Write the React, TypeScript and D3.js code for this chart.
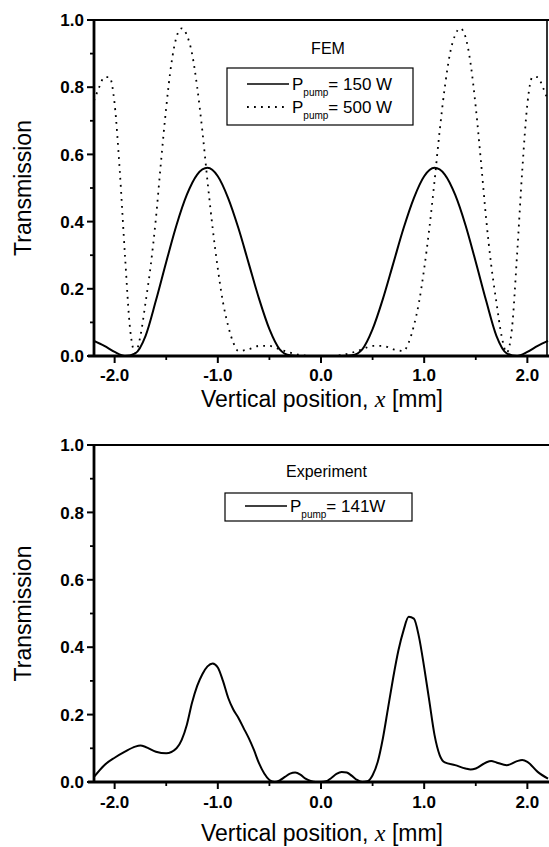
import React from 'react';
import * as d3 from 'd3';

// ---- axis ticks ----
const xTickValues = [-2, -1, 0, 1, 2];
const xTickLabels = ['-2.0', '-1.0', '0.0', '1.0', '2.0'];
const xMinorTicks = [-1.5, -0.5, 0.5, 1.5];
const yTickValues = [0, 0.2, 0.4, 0.6, 0.8, 1.0];
const yTickLabels = ['0.0', '0.2', '0.4', '0.6', '0.8', '1.0'];
const yMinorTicks = [0.1, 0.3, 0.5, 0.7, 0.9];

// ---- FEM, P_pump = 150 W ----
const fem150X = [-2.2, -2.1, -2.0, -1.9, -1.8, -1.7, -1.6, -1.5, -1.4, -1.3, -1.2, -1.1, -1.0, -0.9, -0.8, -0.7, -0.6, -0.5, -0.4, -0.3, -0.2, -0.1, 0.0, 0.1, 0.2, 0.3, 0.4, 0.5, 0.6, 0.7, 0.8, 0.9, 1.0, 1.1, 1.2, 1.3, 1.4, 1.5, 1.6, 1.7, 1.8, 1.9, 2.0, 2.1, 2.2];
const fem150Y = [0.045, 0.03, 0.012, 0.0, 0.008, 0.06, 0.165, 0.28, 0.39, 0.48, 0.54, 0.56, 0.535, 0.47, 0.38, 0.275, 0.17, 0.08, 0.02, 0.002, 0.0, 0.0, 0.0, 0.0, 0.0, 0.002, 0.02, 0.08, 0.17, 0.275, 0.38, 0.47, 0.535, 0.56, 0.54, 0.48, 0.39, 0.28, 0.165, 0.06, 0.008, 0.0, 0.012, 0.03, 0.045];

// ---- FEM, P_pump = 500 W ----
const fem500X = [-2.2, -2.15, -2.1, -2.05, -2.0, -1.95, -1.9, -1.85, -1.8, -1.75, -1.7, -1.65, -1.6, -1.55, -1.5, -1.45, -1.4, -1.35, -1.3, -1.25, -1.2, -1.15, -1.1, -1.05, -1.0, -0.95, -0.9, -0.85, -0.8, -0.7, -0.6, -0.5, -0.4, -0.3, -0.2, -0.1, 0.0, 0.1, 0.2, 0.3, 0.4, 0.5, 0.6, 0.7, 0.8, 0.85, 0.9, 0.95, 1.0, 1.05, 1.1, 1.15, 1.2, 1.25, 1.3, 1.35, 1.4, 1.45, 1.5, 1.55, 1.6, 1.65, 1.7, 1.75, 1.8, 1.85, 1.9, 1.95, 2.0, 2.05, 2.1, 2.15, 2.2];
const fem500Y = [0.76, 0.8, 0.83, 0.83, 0.75, 0.55, 0.3, 0.08, 0.01, 0.06, 0.16, 0.27, 0.41, 0.58, 0.74, 0.87, 0.95, 0.975, 0.955, 0.9, 0.8, 0.67, 0.52, 0.38, 0.26, 0.16, 0.09, 0.04, 0.015, 0.02, 0.03, 0.03, 0.02, 0.01, 0.003, 0.0, 0.0, 0.0, 0.003, 0.01, 0.02, 0.03, 0.03, 0.02, 0.015, 0.04, 0.09, 0.16, 0.26, 0.38, 0.52, 0.67, 0.8, 0.9, 0.955, 0.975, 0.95, 0.87, 0.74, 0.58, 0.41, 0.27, 0.16, 0.06, 0.01, 0.08, 0.3, 0.55, 0.75, 0.83, 0.83, 0.8, 0.76];

// ---- Experiment, P_pump = 141 W ----
const exp141X = [-2.2, -2.1, -2.0, -1.9, -1.8, -1.75, -1.7, -1.6, -1.5, -1.4, -1.35, -1.3, -1.25, -1.2, -1.15, -1.1, -1.05, -1.0, -0.95, -0.9, -0.85, -0.8, -0.75, -0.7, -0.65, -0.6, -0.55, -0.5, -0.45, -0.4, -0.35, -0.3, -0.25, -0.2, -0.15, -0.1, -0.05, 0.0, 0.05, 0.1, 0.15, 0.2, 0.25, 0.3, 0.35, 0.4, 0.45, 0.5, 0.55, 0.6, 0.65, 0.7, 0.75, 0.8, 0.85, 0.9, 0.95, 1.0, 1.05, 1.1, 1.15, 1.2, 1.3, 1.4, 1.45, 1.5, 1.6, 1.65, 1.7, 1.8, 1.9, 1.95, 2.0, 2.1, 2.2];
const exp141Y = [0.015, 0.05, 0.072, 0.09, 0.105, 0.108, 0.104, 0.09, 0.085, 0.1, 0.125, 0.17, 0.235, 0.285, 0.32, 0.343, 0.352, 0.34, 0.3, 0.25, 0.215, 0.19, 0.16, 0.13, 0.095, 0.055, 0.025, 0.006, 0.0, 0.005, 0.015, 0.025, 0.028, 0.022, 0.01, 0.003, 0.0, 0.0, 0.002, 0.012, 0.024, 0.03, 0.028, 0.018, 0.006, 0.0, 0.002, 0.02, 0.06, 0.13, 0.22, 0.31, 0.39, 0.45, 0.49, 0.485, 0.43, 0.34, 0.24, 0.14, 0.08, 0.058, 0.05, 0.04, 0.037, 0.04, 0.058, 0.062, 0.058, 0.05, 0.062, 0.065, 0.06, 0.03, 0.01];

// ---- texts ----
const topTitle = 'FEM';
const bottomTitle = 'Experiment';
const topLegend = ['= 150 W', '= 500 W'];
const bottomLegend = ['= 141W'];
const xAxisTitle = 'Vertical position, ';
const yAxisTitle = 'Transmission';

const SANS = 'Arial, "Liberation Sans", Helvetica, sans-serif';

type Series = { xs: number[]; ys: number[]; dotted: boolean };

function Panel(props: {
  top: number;
  bottom: number;
  series: Series[];
  title: string;
  titleY: number;
  legend: string[];
  legendDotted: boolean[];
  box: { x0: number; y0: number; x1: number; y1: number };
  rowY: number[];
  rightBorder: boolean;
  tickLabelY: number;
  axisTitleY: number;
  id: string;
}) {
  const { top, bottom, series, box } = props;
  const x = d3.scaleLinear().domain([-2.2, 2.2]).range([94, 548]);
  const y = d3.scaleLinear().domain([0, 1]).range([bottom, top]);
  const line = d3
    .line<[number, number]>()
    .x((d) => x(d[0]))
    .y((d) => y(d[1]))
    .curve(d3.curveMonotoneX);
  const left = x(-2.2);
  const right = 547;
  const dash = '1.8 5.2';
  return (
    <g>
      <defs>
        <clipPath id={props.id}>
          <rect x={left} y={top - 2} width={right - left + 2} height={bottom - top + 4} />
        </clipPath>
      </defs>
      {/* curves */}
      <g clipPath={`url(#${props.id})`}>
        {series.map((s, i) => (
          <path
            key={i}
            d={line(s.xs.map((v, j) => [v, s.ys[j]] as [number, number])) || ''}
            fill="none"
            stroke="#000"
            strokeWidth={s.dotted ? 1.8 : 2}
            strokeDasharray={s.dotted ? dash : undefined}
          />
        ))}
      </g>
      {/* frame */}
      <line x1={left} x2={549} y1={top} y2={top} stroke="#000" strokeWidth={2.2} />
      {props.rightBorder && (
        <line x1={right} x2={right} y1={top} y2={bottom} stroke="#000" strokeWidth={1.6} />
      )}
      <line x1={left} x2={left} y1={top - 1} y2={bottom} stroke="#000" strokeWidth={2.8} />
      <line x1={left - 6} x2={549} y1={bottom} y2={bottom} stroke="#000" strokeWidth={2.8} />
      {/* y ticks */}
      {yTickValues.map((v, i) => (
        <g key={'y' + i}>
          <line x1={left - 7} x2={left} y1={y(v)} y2={y(v)} stroke="#000" strokeWidth={2} />
          <text
            x={left - 10}
            y={y(v)}
            dy="0.36em"
            textAnchor="end"
            fontFamily={SANS}
            fontWeight="bold"
            fontSize={17}
          >
            {yTickLabels[i]}
          </text>
        </g>
      ))}
      {yMinorTicks.map((v, i) => (
        <line key={'ym' + i} x1={left - 4} x2={left} y1={y(v)} y2={y(v)} stroke="#000" strokeWidth={1.8} />
      ))}
      {/* x ticks */}
      {xTickValues.map((v, i) => (
        <g key={'x' + i}>
          <line x1={x(v)} x2={x(v)} y1={bottom} y2={bottom + 7} stroke="#000" strokeWidth={2} />
          <text
            x={x(v)}
            y={props.tickLabelY}
            textAnchor="middle"
            fontFamily={SANS}
            fontWeight="bold"
            fontSize={17}
          >
            {xTickLabels[i]}
          </text>
        </g>
      ))}
      {xMinorTicks.map((v, i) => (
        <line key={'xm' + i} x1={x(v)} x2={x(v)} y1={bottom} y2={bottom + 4} stroke="#000" strokeWidth={1.8} />
      ))}
      {/* axis titles */}
      <text x={322} y={props.axisTitleY} textAnchor="middle" fontFamily={SANS} fontSize={23}>
        {xAxisTitle}
        <tspan fontFamily='"Liberation Serif", "Times New Roman", serif' fontStyle="italic" fontSize={24}>
          x
        </tspan>
        {' [mm]'}
      </text>
      <text
        transform={`translate(31, ${(top + bottom) / 2}) rotate(-90)`}
        textAnchor="middle"
        fontFamily={SANS}
        fontSize={23}
      >
        {yAxisTitle}
      </text>
      {/* panel title */}
      <text x={(box.x0 + box.x1) / 2 + 8} y={props.titleY} textAnchor="middle" fontFamily={SANS} fontSize={16}>
        {props.title}
      </text>
      {/* legend */}
      <rect
        x={box.x0}
        y={box.y0}
        width={box.x1 - box.x0}
        height={box.y1 - box.y0}
        fill="#fff"
        stroke="#000"
        strokeWidth={1.2}
      />
      {props.legend.map((label, i) => (
        <g key={'l' + i}>
          <line
            x1={box.x0 + 20}
            x2={box.x0 + 62}
            y1={props.rowY[i]}
            y2={props.rowY[i]}
            stroke="#000"
            strokeWidth={props.legendDotted[i] ? 1.8 : 1.6}
            strokeDasharray={props.legendDotted[i] ? dash : undefined}
          />
          <text x={box.x0 + 65} y={props.rowY[i] + 6} fontFamily={SANS} fontSize={17}>
            P
            <tspan fontSize={10} dy={6}>
              pump
            </tspan>
            <tspan dy={-6}>{label}</tspan>
          </text>
        </g>
      ))}
    </g>
  );
}

export default function App() {
  return (
    <svg
      width={549}
      height={847}
      viewBox="0 0 549 847"
      style={{ position: 'absolute', left: 0, top: 0, background: '#fff' }}
    >
      <rect x={0} y={0} width={549} height={847} fill="#fff" />
      <Panel
        id="clipTop"
        top={20}
        bottom={356}
        series={[
          { xs: fem150X, ys: fem150Y, dotted: false },
          { xs: fem500X, ys: fem500Y, dotted: true },
        ]}
        title={topTitle}
        titleY={54}
        legend={topLegend}
        legendDotted={[false, true]}
        box={{ x0: 227, y0: 68, x1: 413, y1: 125 }}
        rowY={[84, 107]}
        rightBorder={true}
        tickLabelY={381}
        axisTitleY={407}
      />
      <Panel
        id="clipBottom"
        top={445}
        bottom={782}
        series={[{ xs: exp141X, ys: exp141Y, dotted: false }]}
        title={bottomTitle}
        titleY={477}
        legend={bottomLegend}
        legendDotted={[false]}
        box={{ x0: 225, y0: 493, x1: 412, y1: 521 }}
        rowY={[506]}
        rightBorder={false}
        tickLabelY={808}
        axisTitleY={841}
      />
    </svg>
  );
}
